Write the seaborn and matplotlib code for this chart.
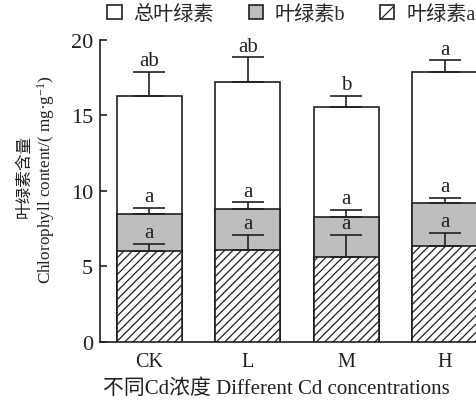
import numpy as np
import pandas as pd
import matplotlib
matplotlib.use("Agg")
import matplotlib.pyplot as plt
from matplotlib.patches import Patch
import seaborn as sns

# Cd treatments and chlorophyll contents (mg/g), mean and SD
treatments = ["CK", "L", "M", "H"]
chl_total = [16.3, 17.25, 15.55, 17.9]
chl_total_sd = [1.6, 1.6, 0.75, 0.75]
chl_a = [6.0, 6.1, 5.65, 6.35]
chl_a_sd = [0.5, 1.0, 1.45, 0.9]
chl_b = [2.45, 2.7, 2.65, 2.85]
chl_b_sd = [0.45, 0.45, 0.45, 0.35]
letters_total = ["ab", "ab", "b", "a"]
letters_b = ["a", "a", "a", "a"]
letters_a = ["a", "a", "a", "a"]
legend_labels = ["总叶绿素", "叶绿素b", "叶绿素a"]
yticks = [0, 5, 10, 15, 20]

sns.set_style("ticks")
plt.rcParams["font.family"] = ["Liberation Serif", "Noto Sans CJK SC"]
plt.rcParams["mathtext.fontset"] = "custom"
plt.rcParams["mathtext.rm"] = "Liberation Serif"
plt.rcParams["mathtext.it"] = "Liberation Serif:italic"
plt.rcParams["hatch.linewidth"] = 0.9

ink = "#231f20"
grey = "#bdbec0"
lw = 1.2

df = pd.DataFrame({
    "treatment": treatments,
    "total": chl_total,
    "a": chl_a,
    "ab": np.add(chl_a, chl_b),
})

fig = plt.figure(figsize=(4.77, 4.02), dpi=100)
ax = fig.add_axes([0.2096, 0.1468, 0.7904, 0.7512])

bar_kw = dict(data=df, x="treatment", width=0.66, saturation=1,
              edgecolor=ink, linewidth=lw, ax=ax)
sns.barplot(y="total", color="white", zorder=2, **bar_kw)
sns.barplot(y="ab", color=grey, zorder=3, **bar_kw)
sns.barplot(y="a", color="white", hatch="////", zorder=4, **bar_kw)

pos = np.arange(len(treatments))
err_kw = dict(fmt="none", ecolor=ink, elinewidth=lw, capsize=11.5,
              capthick=lw, zorder=5)
zeros = np.zeros(len(treatments))
ax.errorbar(pos, chl_total, yerr=[zeros, chl_total_sd], **err_kw)
ax.errorbar(pos, df["ab"], yerr=[zeros, chl_b_sd], **err_kw)
ax.errorbar(pos, chl_a, yerr=[zeros, chl_a_sd], **err_kw)

def mark(tops, sds, labels):
    for i, (t, s, lab) in enumerate(zip(tops, sds, labels)):
        ax.annotate(lab, (i, t + s), xytext=(0, 1.0), textcoords="offset points",
                    ha="center", va="bottom", fontsize=15, color=ink, zorder=6)

mark(chl_total, chl_total_sd, letters_total)
mark(df["ab"], chl_b_sd, letters_b)
mark(chl_a, chl_a_sd, letters_a)

ax.set_xlim(-0.5, 3.33)
ax.set_ylim(0, 20)
ax.set_yticks(yticks)
ax.tick_params(axis="y", direction="in", length=5, width=lw, labelsize=16,
               colors=ink, pad=5)
ax.tick_params(axis="x", length=0, labelsize=14.5, colors=ink, pad=7)
for side in ["top", "right"]:
    ax.spines[side].set_visible(False)
for side in ["left", "bottom"]:
    ax.spines[side].set_linewidth(lw)
    ax.spines[side].set_color(ink)
ax.set_xlabel("")
ax.set_ylabel("")

fig.text(25 / 477, 1 - 176 / 402, "叶绿素含量", rotation=90, ha="center",
         va="center", fontsize=12, color=ink)
fig.text(46 / 477, 1 - 180 / 402, "Chlorophyll content/( mg·g$^{-1}$)",
         rotation=90, ha="center", va="center", fontsize=12.3, color=ink)
fig.text(276 / 477, 1 - 389 / 402, "不同Cd浓度 Different Cd concentrations",
         ha="center", va="center", fontsize=15, color=ink)

handles = [
    Patch(facecolor="white", edgecolor=ink, linewidth=lw),
    Patch(facecolor=grey, edgecolor=ink, linewidth=lw),
    Patch(facecolor="white", edgecolor=ink, linewidth=lw, hatch="/"),
]
fig.legend(handles, legend_labels, loc="center", bbox_to_anchor=(0.611, 0.962),
           ncol=3, frameon=False, handlelength=0.7, handleheight=0.7,
           handletextpad=0.6, columnspacing=1.72, fontsize=14.5,
           borderaxespad=0, borderpad=0)

fig.savefig("out.png", dpi=100)
